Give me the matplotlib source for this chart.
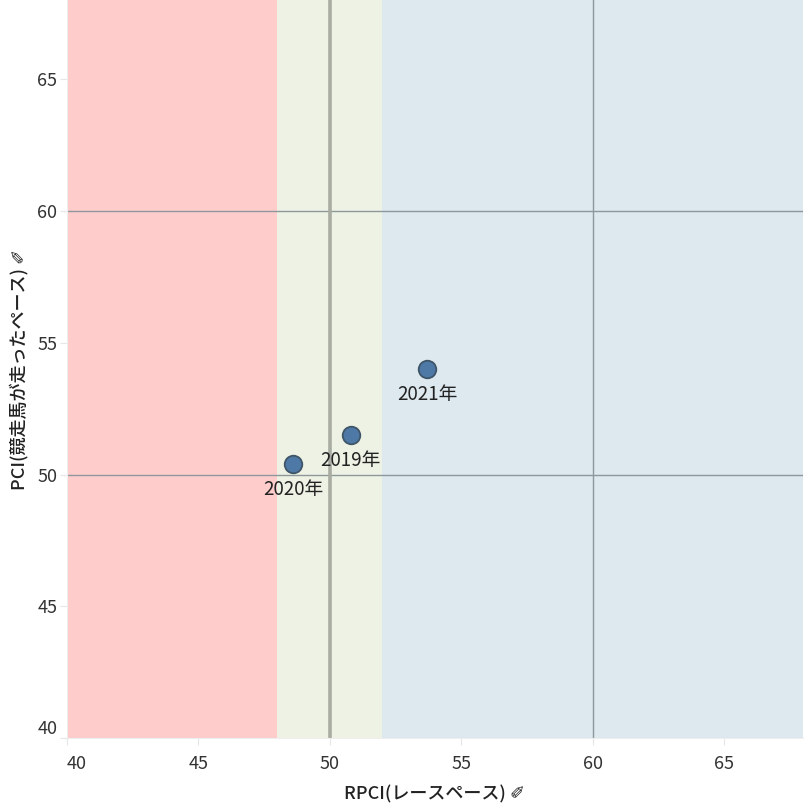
import matplotlib.pyplot as plt

plt.rcParams['font.family'] = ['Noto Sans CJK JP', 'DejaVu Sans']

years = ["2019年", "2020年", "2021年"]
rpci = [50.8, 48.6, 53.7]
pci = [51.5, 50.4, 54.0]

bands = [(40, 48, "#ffcccc"), (48, 52, "#eef2e4"), (52, 68, "#dde8ef")]
x_ticks = [40, 45, 50, 55, 60, 65]
y_ticks = [40, 45, 50, 55, 60, 65]

fig = plt.figure(figsize=(8.08, 8.10), dpi=100)
ax = fig.add_axes([67 / 808, 1 - 738.3 / 810, 736 / 808, 738.3 / 810])
ax.set_xlim(40, 68)
ax.set_ylim(40, 68)

for lo, hi, col in bands:
    ax.axvspan(lo, hi, color=col, lw=0, zorder=0)

for v in [50, 60]:
    ax.axhline(v, color="#8e979b", lw=1, zorder=1)
ax.axvline(60, color="#8e979b", lw=1, zorder=1)
ax.axvline(50, color="#a9aca2", lw=2.6, zorder=1)

ax.scatter(rpci, pci, s=160, color="#4e79a7", edgecolors="#3f5668",
           linewidths=1.3, zorder=3)
for name, x, y in zip(years, rpci, pci):
    ax.annotate(name, (x, y), xytext=(0, -18), textcoords="offset points",
                ha="center", va="center", fontsize=13.5, color="#222222",
                zorder=4)

ax.set_xticks(x_ticks)
ax.set_yticks(y_ticks)
ax.set_xticklabels([str(t) for t in x_ticks], fontsize=13, color="#333333")
ax.set_yticklabels([str(t) for t in y_ticks], fontsize=13, color="#333333")
ax.get_xticklabels()[0].set_ha("left")
ax.get_yticklabels()[0].set_va("bottom")
ax.tick_params(axis="x", length=5, color="#e6e6e6", pad=7)
ax.tick_params(axis="y", length=5, color="#e6e6e6", pad=2)

for s in ["top", "right"]:
    ax.spines[s].set_visible(False)
for s in ["left", "bottom"]:
    ax.spines[s].set_color("#eeeeee")

ax.set_xlabel("RPCI(レースペース) ✐", fontsize=13, color="#222222",
              fontweight="medium")
ax.set_ylabel("PCI(競走馬が走ったペース) ✐", fontsize=13, color="#222222",
              fontweight="medium")
ax.xaxis.set_label_coords(0.5, -0.063)
ax.yaxis.set_label_coords(-0.052, 0.5)

fig.savefig("out.png", dpi=100)
